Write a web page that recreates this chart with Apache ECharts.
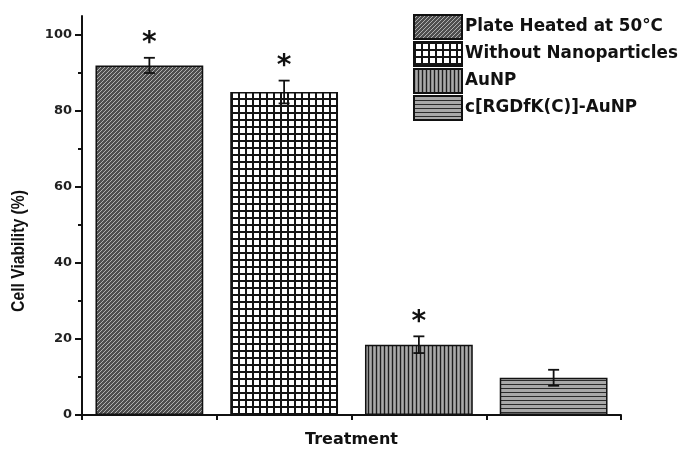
<!DOCTYPE html>
<html>
<head>
    <meta charset="utf-8" />
    <title>Cell Viability</title>
    <script src="https://cdn.jsdelivr.net/npm/echarts@6/dist/echarts.min.js"></script>
    <style>
        html, body { margin: 0; padding: 0; background: #fff; }
        #main { width: 684px; height: 453px; }
    </style>
</head>
<body>
    <div id="main"></div>
    <script type="text/javascript">
        var treatments = ['Plate Heated at 50°C', 'Without Nanoparticles', 'AuNP', 'c[RGDfK(C)]-AuNP'];
        var viability = [92, 85, 18.5, 9.8];
        var errors = [2, 3, 2.2, 2.1];
        var significant = [1, 1, 1, 0];
        var yMajorTicks = [0, 20, 40, 60, 80, 100];
        var yMinorTicks = [10, 30, 50, 70, 90];
        var xBoundaryTicks = [0, 1, 2, 3, 4];

        // small pattern tiles for the hatched bars
        function tile(w, h, draw) {
            var c = document.createElement('canvas');
            c.width = w; c.height = h;
            draw(c.getContext('2d'));
            return { image: c, repeat: 'repeat' };
        }
        var patterns = [
            tile(4, 4, function (g) {
                g.fillStyle = '#4e4e4e'; g.fillRect(0, 0, 4, 4);
                g.fillStyle = '#b0b0b0';
                for (var i = 0; i < 4; i++) g.fillRect(3 - i, i, 1, 1);
            }),
            tile(7, 7, function (g) {
                g.fillStyle = '#fff'; g.fillRect(0, 0, 7, 7);
                g.fillStyle = '#151515';
                g.fillRect(0, 0, 7, 2); g.fillRect(0, 0, 2, 7);
            }),
            tile(4, 1, function (g) {
                g.fillStyle = '#8e8e8e'; g.fillRect(0, 0, 4, 1);
                g.fillStyle = '#1e1e1e'; g.fillRect(0, 0, 1, 1);
                g.fillStyle = '#aaaaaa'; g.fillRect(2, 0, 1, 1);
            }),
            tile(1, 4, function (g) {
                g.fillStyle = '#a8a8a8'; g.fillRect(0, 0, 1, 4);
                g.fillStyle = '#2a2a2a'; g.fillRect(0, 0, 1, 1);
            })
        ];

        var barSeries = treatments.map(function (name, i) {
            return {
                name: name,
                type: 'bar',
                stack: 'one',
                barWidth: '80%',
                data: viability.map(function (v, j) { return j === i ? v : '-'; }),
                itemStyle: { color: patterns[i], borderColor: '#111', borderWidth: 1.5 },
                z: 2
            };
        });

        var errData = viability.map(function (v, i) { return [i, v, errors[i], significant[i]]; });

        var myChart = echarts.init(document.getElementById('main'));
        var option = {
            animation: false,
            grid: { left: 82, right: 63, top: 16, bottom: 36 },
            legend: {
                data: treatments,
                orient: 'vertical',
                left: 413,
                top: 14,
                padding: 0,
                icon: 'rect',
                itemWidth: 48,
                itemHeight: 24,
                itemGap: 1,
                selectedMode: false,
                textStyle: { fontFamily: 'DejaVu Sans', fontWeight: 'bold', fontSize: 16.8, color: '#111', padding: [0, 0, 0, -2], lineHeight: 24 }
            },
            xAxis: [{
                type: 'category',
                data: treatments,
                name: 'Treatment',
                nameLocation: 'middle',
                nameGap: 17,
                nameTextStyle: { fontFamily: 'DejaVu Sans', fontWeight: 'bold', fontSize: 16, color: '#111' },
                axisLine: { lineStyle: { color: '#111', width: 2 } },
                axisTick: { alignWithLabel: true, length: 8, lineStyle: { color: '#111', width: 2 } },
                axisLabel: { show: false }
            }, {
                type: 'value',
                min: 0, max: 4,
                position: 'bottom',
                axisLine: { show: false },
                axisTick: { customValues: xBoundaryTicks, length: 5, lineStyle: { color: '#111', width: 2 } },
                axisLabel: { show: false },
                splitLine: { show: false }
            }],
            yAxis: [{
                type: 'value',
                min: 0, max: 105,
                axisLine: { show: true, lineStyle: { color: '#111', width: 2 } },
                axisTick: { show: true, customValues: yMajorTicks, length: 7, lineStyle: { color: '#111', width: 2 } },
                axisLabel: { customValues: yMajorTicks, margin: 10, fontFamily: 'DejaVu Sans', fontWeight: 'bold', fontSize: 13, color: '#222' },
                splitLine: { show: false }
            }, {
                type: 'value',
                min: 0, max: 105,
                position: 'left',
                axisLine: { show: false },
                axisTick: { show: true, customValues: yMinorTicks, length: 4, lineStyle: { color: '#111', width: 2 } },
                axisLabel: { show: false },
                splitLine: { show: false }
            }],
            graphic: [{
                type: 'text',
                x: 19, y: 251,
                rotation: Math.PI / 2,
                scaleY: 1.2,
                style: {
                    text: 'Cell Viability (%)',
                    font: 'bold 15.7px "Liberation Sans", Arial, sans-serif',
                    fill: '#111',
                    align: 'center',
                    verticalAlign: 'middle'
                }
            }],
            series: barSeries.concat([{
                type: 'custom',
                name: 'error',
                data: errData,
                encode: { x: 0, y: 1 },
                z: 5,
                renderItem: function (params, api) {
                    var i = api.value(0), v = api.value(1), e = api.value(2), s = api.value(3);
                    var top = api.coord([i, v + e]);
                    var bot = api.coord([i, v - e]);
                    var hw = 5.5;
                    var ls = { stroke: '#111', lineWidth: 1.8 };
                    var children = [
                        { type: 'line', shape: { x1: top[0], y1: top[1], x2: bot[0], y2: bot[1] }, style: ls },
                        { type: 'line', shape: { x1: top[0] - hw, y1: top[1], x2: top[0] + hw, y2: top[1] }, style: ls },
                        { type: 'line', shape: { x1: bot[0] - hw, y1: bot[1], x2: bot[0] + hw, y2: bot[1] }, style: ls }
                    ];
                    if (s) {
                        children.push({
                            type: 'text',
                            style: {
                                text: '*', x: top[0], y: top[1],
                                align: 'center', verticalAlign: 'bottom',
                                font: 'bold 28px "DejaVu Sans"', fill: '#111'
                            }
                        });
                    }
                    return { type: 'group', children: children };
                }
            }])
        };
        myChart.setOption(option);
    </script>
</body>
</html>
